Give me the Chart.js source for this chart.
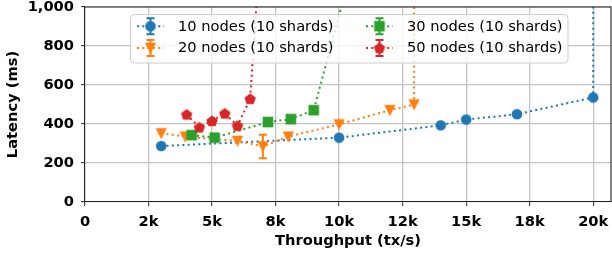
<!DOCTYPE html>
<html>
<head>
<meta charset="utf-8">
<script src="https://cdn.jsdelivr.net/npm/chart.js@4.4.1/dist/chart.umd.min.js"></script>
<style>
html, body { margin: 0; padding: 0; background: #fff; }
#wrap { width: 612px; height: 254px; }
</style>
</head>
<body>
<div id="wrap"><canvas id="latency-chart"></canvas></div>
<script>
const seriesLabels = ['10 nodes (10 shards)', '20 nodes (10 shards)', '30 nodes (10 shards)', '50 nodes (10 shards)'];
const seriesColors = ['#1f77b4', '#ff7f0e', '#2ca02c', '#d62728'];
const seriesMarkers = ['circle', 'triangleDown', 'square', 'pentagon'];

// throughput (tx/s) vs latency (ms); the last point of each run is saturated (off the top)
const tput10 = [3000, 10000, 14000, 15000, 17000, 20000, 20000];
const lat10 = [287, 330, 393, 423, 450, 536, 3000];
const err10 = [0, 0, 0, 0, 0, 0, 0];

const tput20 = [3000, 3950, 6000, 7000, 8000, 10000, 12000, 12950, 12950];
const lat20 = [352, 335, 313, 285, 335, 398, 471, 500, 3000];
const err20 = [0, 0, 0, 60, 0, 0, 0, 0, 0];

const tput30 = [4200, 5100, 7200, 8100, 9000, 10500];
const lat30 = [343, 330, 410, 425, 471, 1200];
const err30 = [0, 0, 0, 0, 0, 0];

const tput50 = [4000, 4500, 5000, 5500, 6000, 6500, 7000];
const lat50 = [449, 383, 416, 454, 391, 529, 1500];
const err50 = [0, 0, 0, 0, 0, 0, 0];

const xTicks = [0, 2500, 5000, 7500, 10000, 12500, 15000, 17500, 20000];
const xTickLabels = ['0', '2k', '5k', '8k', '10k', '12k', '15k', '18k', '20k'];
const yTicks = [0, 200, 400, 600, 800, 1000];
const yTickLabels = ['0', '200', '400', '600', '800', '1,000'];

const tputs = [tput10, tput20, tput30, tput50];
const lats = [lat10, lat20, lat30, lat50];
const errs = [err10, err20, err30, err50];

const FONT = 'DejaVu Sans';
const FONT_SIZE = 14.67;

function makeMarker(shape, color) {
    let c = document.createElement('canvas');
    c.width = 16;
    c.height = 16;
    let g = c.getContext('2d');
    let m = 8, r = 5.3;
    g.fillStyle = color;
    g.beginPath();
    if (shape === 'circle') {
        g.arc(m, m, r, 0, 2 * Math.PI);
    } else if (shape === 'square') {
        g.rect(m - r, m - r, 2 * r, 2 * r);
    } else if (shape === 'triangleDown') {
        g.moveTo(m - r - 0.4, m - r);
        g.lineTo(m + r + 0.4, m - r);
        g.lineTo(m, m + r + 0.6);
    } else {
        for (let i = 0; i < 5; i++) {
            let a = -Math.PI / 2 + i * 2 * Math.PI / 5;
            let px = m + 6 * Math.cos(a), py = m + 0.5 + 6 * Math.sin(a);
            if (i == 0) g.moveTo(px, py); else g.lineTo(px, py);
        }
    }
    g.closePath();
    g.fill();
    return c;
}

const markerImages = seriesMarkers.map((s, i) => makeMarker(s, seriesColors[i]));

const datasets = seriesLabels.map(function (label, i) {
    return {
        label: label,
        data: tputs[i].map((x, j) => ({ x: x, y: lats[i][j] })),
        borderColor: seriesColors[i],
        backgroundColor: seriesColors[i],
        borderWidth: 2,
        borderDash: [2, 3.3],
        pointStyle: markerImages[i],
        pointRadius: ctx => (ctx.raw && ctx.raw.y > 1000 ? 0 : 5),
        pointHoverRadius: 5,
        tension: 0,
        clip: 0,
        order: 3 - i
    };
});

function drawErrorBar(ctx, x, yTop, yBot, color, cap) {
    ctx.strokeStyle = color;
    ctx.lineWidth = 2;
    ctx.setLineDash([]);
    ctx.beginPath();
    ctx.moveTo(x, yTop);
    ctx.lineTo(x, yBot);
    ctx.moveTo(x - cap, yTop);
    ctx.lineTo(x + cap, yTop);
    ctx.moveTo(x - cap, yBot);
    ctx.lineTo(x + cap, yBot);
    ctx.stroke();
}

// let the axes run right up to the frame, as matplotlib does
const fullWidth = {
    id: 'fullWidth',
    afterLayout(chart) {
        const ca = chart.chartArea, xs = chart.scales.x;
        const right = chart.width - 1;
        ca.right = right;
        ca.width = right - ca.left;
        xs.right = right;
        xs.width = right - xs.left;
        xs.configure();
        xs._labelItems = null;
        xs._gridLineItems = null;
        chart.scales.y._gridLineItems = null;
    }
};

const errorBars = {
    id: 'errorBars',
    afterDatasetsDraw(chart) {
        const ctx = chart.ctx;
        const xs = chart.scales.x, ys = chart.scales.y;
        ctx.save();
        errs.forEach(function (e, i) {
            e.forEach(function (v, j) {
                if (!v) return;
                let px = xs.getPixelForValue(tputs[i][j]);
                drawErrorBar(ctx, px, ys.getPixelForValue(lats[i][j] + v), ys.getPixelForValue(lats[i][j] - v), seriesColors[i], 4);
            });
        });
        ctx.restore();
    }
};

const frame = {
    id: 'frame',
    afterDatasetsDraw(chart) {
        const { ctx, chartArea } = chart;
        ctx.save();
        ctx.strokeStyle = '#222';
        ctx.lineWidth = 1.1;
        ctx.beginPath();
        ctx.moveTo(chartArea.left, chartArea.top);
        ctx.lineTo(chartArea.right, chartArea.top);
        ctx.lineTo(chartArea.right, chartArea.bottom);
        ctx.stroke();
        ctx.restore();
    }
};

// legend in two columns inside the axes, like the original
const legendBox = {
    id: 'legendBox',
    afterDatasetsDraw(chart) {
        const { ctx, chartArea } = chart;
        const left = chartArea.left + 45.5, top = chartArea.top + 7.5;
        const w = 437.5, h = 48.5, rad = 4;
        ctx.save();
        ctx.fillStyle = 'rgba(255,255,255,0.8)';
        ctx.strokeStyle = '#cccccc';
        ctx.lineWidth = 1;
        ctx.beginPath();
        ctx.roundRect(left, top, w, h, rad);
        ctx.fill();
        ctx.stroke();

        const slots = [[0, 0], [0, 1], [1, 0], [1, 1]];
        const colX = [20, 249];
        const rowY = [11.7, 33.4];
        ctx.font = FONT_SIZE + 'px "' + FONT + '"';
        ctx.textBaseline = 'middle';
        ctx.textAlign = 'left';
        seriesLabels.forEach(function (label, i) {
            let cx = left + colX[slots[i][0]];
            let cy = top + rowY[slots[i][1]];
            ctx.strokeStyle = seriesColors[i];
            ctx.lineWidth = 2;
            ctx.setLineDash([2, 3.3]);
            ctx.beginPath();
            ctx.moveTo(cx - 13.5, cy);
            ctx.lineTo(cx + 13.5, cy);
            ctx.stroke();
            drawErrorBar(ctx, cx, cy - 8, cy + 8, seriesColors[i], 4);
            ctx.drawImage(markerImages[i], cx - 8, cy - 8);
            ctx.fillStyle = '#000';
            ctx.fillText(label, cx + 27.5, cy + 0.5);
        });
        ctx.restore();
    }
};

const ctx = document.getElementById('latency-chart');

let chart = new Chart(ctx, {
    type: 'line',
    data: { datasets: datasets },
    plugins: [fullWidth, errorBars, frame, legendBox],
    options: {
        responsive: true,
        maintainAspectRatio: false,
        animation: false,
        layout: { padding: { left: 0, top: 6, right: 1, bottom: 0 } },
        scales: {
            x: {
                type: 'linear',
                min: 0,
                max: 20700,
                afterBuildTicks: axis => { axis.ticks = xTicks.map(v => ({ value: v })); },
                afterFit: axis => {
                    axis.height = 52;
                    axis.paddingLeft = 0;
                    axis.paddingRight = 0;
                },
                ticks: {
                    autoSkip: false,
                    maxRotation: 0,
                    padding: 7,
                    color: '#000',
                    font: { family: FONT, size: FONT_SIZE, weight: 'bold' },
                    callback: (v, i) => xTickLabels[i]
                },
                grid: { color: '#c4c4c4', lineWidth: 1.3, tickLength: 4, tickColor: '#222', tickWidth: 1 },
                border: { color: '#222', width: 1.1 },
                title: {
                    display: true,
                    text: 'Throughput (tx/s)',
                    color: '#000',
                    font: { family: FONT, size: FONT_SIZE, weight: 'bold' },
                    padding: { top: 0, bottom: 4 }
                }
            },
            y: {
                min: 0,
                max: 1000,
                afterBuildTicks: axis => { axis.ticks = yTicks.map(v => ({ value: v })); },
                afterFit: axis => {
                    axis.width = 85;
                    axis.paddingTop = 0;
                    axis.paddingBottom = 0;
                },
                ticks: {
                    padding: 7,
                    color: '#000',
                    font: { family: FONT, size: FONT_SIZE, weight: 'bold' },
                    callback: (v, i) => yTickLabels[i]
                },
                grid: { color: '#c4c4c4', lineWidth: 1.3, tickLength: 4, tickColor: '#222', tickWidth: 1 },
                border: { color: '#222', width: 1.1 },
                title: {
                    display: true,
                    text: 'Latency (ms)',
                    color: '#000',
                    font: { family: FONT, size: FONT_SIZE, weight: 'bold' },
                    padding: { top: 4, bottom: 0 }
                }
            }
        },
        plugins: {
            legend: { display: false },
            tooltip: { enabled: false }
        }
    }
});
</script>
</body>
</html>
